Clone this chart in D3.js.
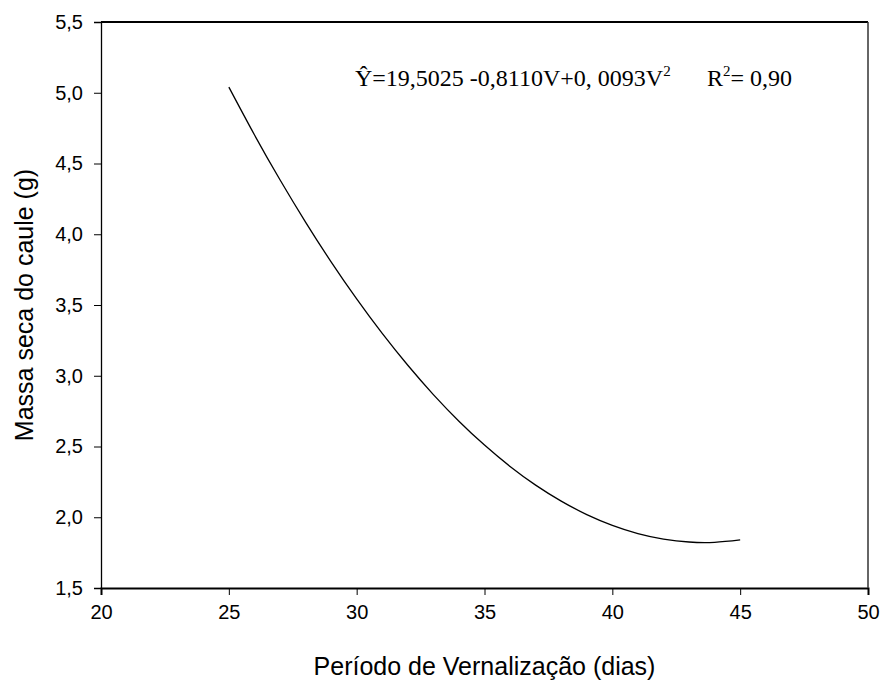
<!DOCTYPE html>
<html>
<head>
<meta charset="utf-8">
<script src="https://cdn.jsdelivr.net/npm/d3@7"></script>
<style>
  body { margin: 0; background: white; }
  .tick text { font-family: "Liberation Sans", Arial, sans-serif; font-size: 20px; fill: #000; }
  .label { font-family: "Liberation Sans", Arial, sans-serif; font-size: 25px; fill: #000; }
  .eq { font-family: "Liberation Serif", "Times New Roman", serif; font-size: 24px; fill: #000; }
</style>
</head>
<body>
<svg id="plot"></svg>
<script>
const width = 883;
const height = 684;
const margin = {top: 22, right: 15, bottom: 96, left: 101};

// período de vernalização (dias) e massa seca
const dias = [25, 26, 27, 28, 29, 30, 31, 32, 33, 34, 35, 36, 37, 38, 39, 40, 41, 42, 43, 44, 45];
const massa = [5.040, 4.703, 4.385, 4.086, 3.805, 3.543, 3.299, 3.074, 2.867, 2.679, 2.510, 2.359, 2.227, 2.114, 2.019, 1.943, 1.885, 1.846, 1.825, 1.823, 1.840];

const xTicks = [20, 25, 30, 35, 40, 45, 50];
const yTicks = [1.5, 2.0, 2.5, 3.0, 3.5, 4.0, 4.5, 5.0, 5.5];

const plot = d3.select("#plot")
  .attr("width", width)
  .attr("height", height);

const xScale = d3.scaleLinear()
  .domain([20, 50])
  .range([margin.left, width - margin.right]);

const yScale = d3.scaleLinear()
  .domain([1.5, 5.5])
  .range([height - margin.bottom, margin.top]);

const fmt = d3.format(".1f");

// eixo x
const xAxis = plot.append("g")
  .attr("transform", "translate(0," + yScale(1.5) + ")")
  .call(d3.axisBottom(xScale).tickValues(xTicks).tickSizeOuter(0).tickSize(7).tickPadding(10));
xAxis.select(".domain").attr("stroke-width", 2);

// eixo y
const yAxis = plot.append("g")
  .attr("transform", "translate(" + xScale(20) + ",0)")
  .call(d3.axisLeft(yScale).tickValues(yTicks).tickSizeOuter(0).tickSize(7).tickPadding(11)
    .tickFormat((d) => fmt(d).replace(".", ",")));
yAxis.select(".domain").attr("stroke-width", 1.3);

// moldura superior e direita
plot.append("line")
  .attr("x1", xScale(20)).attr("x2", xScale(50))
  .attr("y1", yScale(5.5)).attr("y2", yScale(5.5))
  .attr("stroke", "#000").attr("stroke-width", 2);
plot.append("line")
  .attr("x1", xScale(50)).attr("x2", xScale(50))
  .attr("y1", yScale(5.5)).attr("y2", yScale(1.5))
  .attr("stroke", "#333").attr("stroke-width", 1.5);

// curva ajustada
const line = d3.line()
  .x((d, i) => xScale(dias[i]))
  .y((d) => yScale(d))
  .curve(d3.curveNatural);

plot.append("path")
  .datum(massa)
  .attr("fill", "none")
  .attr("stroke", "#000")
  .attr("stroke-width", 1.3)
  .attr("d", line);

// títulos dos eixos
plot.append("text")
  .attr("class", "label")
  .attr("x", (xScale(20) + xScale(50)) / 2)
  .attr("y", 675)
  .attr("text-anchor", "middle")
  .text("Período de Vernalização (dias)");

plot.append("text")
  .attr("class", "label")
  .attr("transform", "translate(33," + (yScale(1.5) + yScale(5.5)) / 2 + ") rotate(-90)")
  .attr("text-anchor", "middle")
  .text("Massa seca do caule (g)");

// equação
const eq = plot.append("text")
  .attr("class", "eq")
  .attr("x", 355)
  .attr("y", 86);
eq.append("tspan").text("Ŷ=19,5025 -0,8110V+0, 0093V");
eq.append("tspan").attr("dy", -10).attr("font-size", "15px").text("2");

const r2 = plot.append("text")
  .attr("class", "eq")
  .attr("x", 707)
  .attr("y", 86);
r2.append("tspan").text("R");
r2.append("tspan").attr("dy", -10).attr("font-size", "15px").text("2");
r2.append("tspan").attr("dy", 10).text("= 0,90");
</script>
</body>
</html>
